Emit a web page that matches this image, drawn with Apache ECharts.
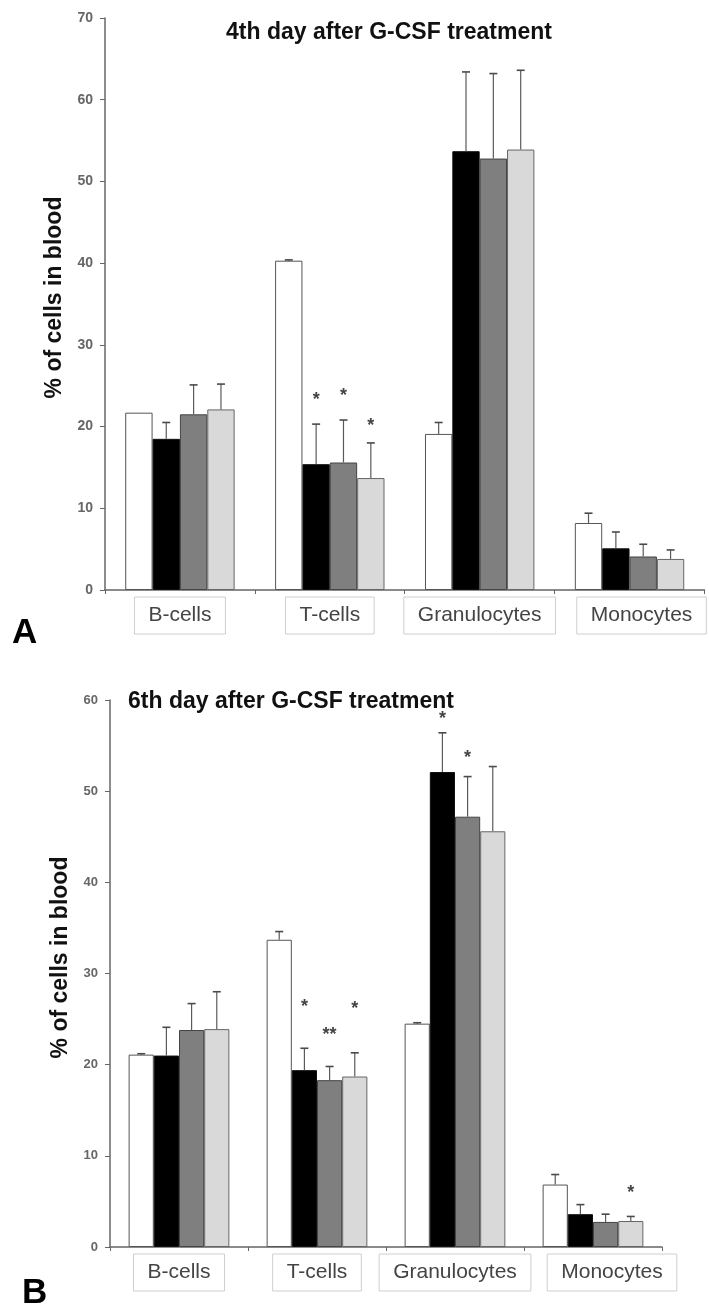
<!DOCTYPE html>
<html>
<head>
<meta charset="utf-8">
<script src="https://cdn.jsdelivr.net/npm/echarts@6/dist/echarts.min.js"></script>
<style>
html,body{margin:0;padding:0;background:#fff;}
#chart{width:709px;height:1307px;}
</style>
</head>
<body>
<div id="chart"></div>
<script>
const categories = ['B-cells', 'T-cells', 'Granulocytes', 'Monocytes'];
const groupNames = ['Group 1', 'Group 2', 'Group 3', 'Group 4'];
const yTicksA = [0, 10, 20, 30, 40, 50, 60, 70];
const yTicksB = [0, 10, 20, 30, 40, 50, 60];

// Panel A: 4th day after G-CSF treatment (means and upper SD)
const aWhite = [21.7, 40.3, 19.1, 8.2];
const aBlack = [18.5, 15.4, 53.7, 5.1];
const aGray  = [21.5, 15.6, 52.8, 4.1];
const aLight = [22.1, 13.7, 53.9, 3.8];
const aWhiteErr = [0, 0.1, 1.4, 1.2];
const aBlackErr = [2.0, 4.9, 9.7, 2.0];
const aGrayErr  = [3.6, 5.2, 10.4, 1.5];
const aLightErr = [3.1, 4.3, 9.7, 1.1];
const aStarWhite = [null, null, null, null];
const aStarBlack = [null, 23.7, null, null];
const aStarGray  = [null, 24.2, null, null];
const aStarLight = [null, 20.6, null, null];
const aStarTextBlack = ['', '*', '', ''];
const aStarTextGray  = ['', '*', '', ''];
const aStarTextLight = ['', '*', '', ''];

// Panel B: 6th day after G-CSF treatment
const bWhite = [21.1, 33.7, 24.5, 6.85];
const bBlack = [21.0, 19.4, 52.1, 3.6];
const bGray  = [23.8, 18.3, 47.2, 2.75];
const bLight = [23.9, 18.7, 45.6, 2.85];
const bWhiteErr = [0.1, 0.9, 0.1, 1.1];
const bBlackErr = [3.1, 2.4, 4.3, 1.05];
const bGrayErr  = [2.9, 1.5, 4.4, 0.85];
const bLightErr = [4.1, 2.6, 7.1, 0.5];
const bStarWhite = [null, null, null, null];
const bStarBlack = [null, 26.8, 58.3, null];
const bStarGray  = [null, 23.7, 54.1, null];
const bStarLight = [null, 26.5, null, 6.4];
const bStarTextBlack = ['', '*', '*', ''];
const bStarTextGray  = ['', '**', '*', ''];
const bStarTextLight = ['', '*', '', '*'];

const FONT = 'Liberation Sans, Arial, Helvetica, sans-serif';
const GAP = 0.27;
const barStyles = [
  {color: '#ffffff', borderColor: '#555555', borderWidth: 1},
  {color: '#000000', borderColor: '#111111', borderWidth: 1},
  {color: '#7f7f7f', borderColor: '#444444', borderWidth: 1},
  {color: '#d9d9d9', borderColor: '#666666', borderWidth: 1}
];

function errRender(means, errs, stars, starTexts) {
  return function (params, api) {
    const c = api.value(0);
    const s = api.value(1);
    const m = means[s][c], e = errs[s][c];
    const base = api.coord([c, m]);
    const band = api.size([1, 0])[0];
    const bw = band * (1 - GAP) / 4;
    const x = base[0] - 2 * bw + (s + 0.5) * bw;
    const children = [];
    if (e > 0) {
      const top = api.coord([c, m + e]);
      children.push({type: 'line', shape: {x1: x, y1: base[1], x2: x, y2: top[1]}, style: {stroke: '#5a5a5a', lineWidth: 1.2}});
      children.push({type: 'line', shape: {x1: x - 4, y1: top[1], x2: x + 4, y2: top[1]}, style: {stroke: '#4a4a4a', lineWidth: 1.6}});
    }
    const sp = stars[s][c];
    if (sp != null) {
      const p = api.coord([c, sp]);
      children.push({type: 'text', x: x, y: p[1] + 4, style: {text: starTexts[s][c], fill: '#444', font: 'bold 18px ' + FONT, align: 'center', verticalAlign: 'middle'}});
    }
    return {type: 'group', children: children};
  };
}

function makePanel(idx, means, errs, stars, starTexts) {
  const list = [];
  means.forEach((arr, s) => {
    list.push({
      type: 'bar', name: groupNames[s], xAxisIndex: idx, yAxisIndex: idx,
      data: arr, barGap: '0%', barCategoryGap: (GAP * 100) + '%',
      itemStyle: barStyles[s], z: 2
    });
  });
  const pts = [];
  for (let c = 0; c < categories.length; c++) for (let s = 0; s < 4; s++) pts.push([c, s]);
  list.push({
    type: 'custom', xAxisIndex: idx, yAxisIndex: idx, data: pts,
    encode: {x: 0, y: 1}, z: 5, silent: true,
    renderItem: errRender(means, errs, stars, starTexts)
  });
  return list;
}

function xAxisCfg(idx, monoShift) {
  return {
    type: 'category', gridIndex: idx, data: categories,
    axisLine: {show: true, lineStyle: {color: '#666', width: 1.5}},
    axisTick: {show: true, length: 4, lineStyle: {color: '#666'}},
    axisLabel: {
      interval: 0, margin: 7,
      formatter: v => v === 'Monocytes' ? '{s|}{b|' + v + '}' : '{b|' + v + '}',
      rich: {
        b: {fontFamily: FONT, fontSize: 21, color: '#444', borderColor: '#cfcfcf', borderWidth: 1, padding: [8, 14, 8, 14]},
        s: {width: monoShift}
      }
    }
  };
}

function yAxisCfg(idx, max, labelSize, nameGap, namePad) {
  return {
    type: 'value', gridIndex: idx, min: 0, max: max, interval: 10,
    name: '% of cells in blood', nameLocation: 'middle', nameGap: nameGap,
    nameTextStyle: {fontFamily: FONT, fontSize: 23, fontWeight: 'bold', color: '#111', padding: [0, 0, 0, namePad]},
    axisLine: {show: true, lineStyle: {color: '#666', width: 1.5}},
    axisTick: {show: true, length: 5, lineStyle: {color: '#666'}},
    axisLabel: {margin: 12, fontFamily: FONT, fontSize: labelSize, fontWeight: 'bold', color: '#666'},
    splitLine: {show: false}
  };
}

const chart = echarts.init(document.getElementById('chart'), null, {renderer: 'canvas'});
chart.setOption({
  animation: false,
  backgroundColor: '#fff',
  title: [
    {text: '4th day after G-CSF treatment', left: 389, top: 21, padding: 0, textAlign: 'center',
     textStyle: {fontFamily: FONT, fontSize: 23, fontWeight: 'bold', color: '#111'}},
    {text: '6th day after G-CSF treatment', left: 128, top: 690, padding: 0,
     textStyle: {fontFamily: FONT, fontSize: 23, fontWeight: 'bold', color: '#111'}}
  ],
  graphic: [
    {type: 'text', x: 12, y: 633, style: {text: 'A', font: 'bold 35px ' + FONT, fill: '#000', verticalAlign: 'middle'}},
    {type: 'text', x: 22, y: 1293, style: {text: 'B', font: 'bold 35px ' + FONT, fill: '#000', verticalAlign: 'middle'}}
  ],
  grid: [
    {left: 105, top: 18, width: 606, height: 572},
    {left: 110, top: 700, width: 552, height: 547}
  ],
  xAxis: [xAxisCfg(0, 24), xAxisCfg(1, 38)],
  yAxis: [yAxisCfg(0, 70, 14, 34, 13), yAxisCfg(1, 60, 13, 38, 32)],
  series: [].concat(
    makePanel(0, [aWhite, aBlack, aGray, aLight], [aWhiteErr, aBlackErr, aGrayErr, aLightErr],
      [aStarWhite, aStarBlack, aStarGray, aStarLight], [['', '', '', ''], aStarTextBlack, aStarTextGray, aStarTextLight]),
    makePanel(1, [bWhite, bBlack, bGray, bLight], [bWhiteErr, bBlackErr, bGrayErr, bLightErr],
      [bStarWhite, bStarBlack, bStarGray, bStarLight], [['', '', '', ''], bStarTextBlack, bStarTextGray, bStarTextLight])
  )
});
</script>
</body>
</html>
